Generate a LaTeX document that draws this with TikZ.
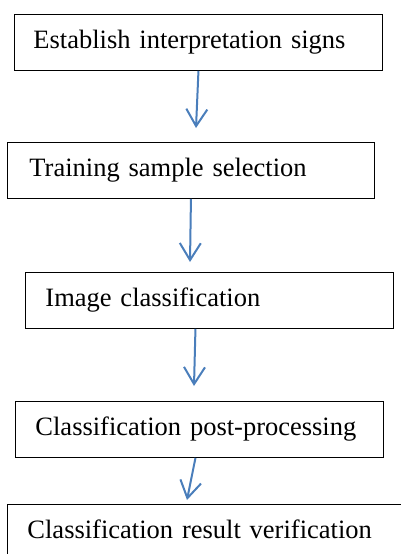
\documentclass[tikz,border=0pt]{standalone}
\usepackage{fontspec}
\setmainfont{Liberation Serif}
\usetikzlibrary{arrows.meta}
\definecolor{flowblue}{HTML}{4A7EBB}
\begin{document}
\begin{tikzpicture}[x=1pt,y=-1pt]
		\tikzstyle{stage}=[draw,line width=0.9pt,anchor=north west,minimum height=56pt,align=left,text height=19pt,text depth=6pt,font=\fontsize{26.5}{30}\selectfont]
		\tikzstyle{flow}=[draw=flowblue,line width=2pt,-{Straight Barb[length=17pt,width=21pt]}]
		\clip (0,0) rectangle (401,554);

		\node[stage,inner xsep=19pt,text width=330pt](sign) at (14,14){Establish interpretation signs};
		\node[stage,inner xsep=22pt,text width=323pt](sample) at (7,142){Training sample selection};
		\node[stage,inner xsep=20pt,text width=328pt](classify) at (25,272){Image classification};
		\node[stage,inner xsep=20pt,text width=328pt](post) at (15,401){Classification post-processing};
		\node[stage,inner xsep=20pt,text width=380pt](verify) at (7,504){Classification result verification};

		\coordinate (t1) at (196,128);
		\coordinate (t2) at (190,262);
		\coordinate (t3) at (194,386);
		\coordinate (t4) at (187,500);
		\draw[flow] (sign.south) -- (t1);
		\draw[flow] (sample.south) -- (t2);
		\draw[flow] ([xshift=-14pt]classify.south) -- (t3);
		\draw[flow] ([xshift=-4pt]post.south) -- (t4);
	\end{tikzpicture}
\end{document}
